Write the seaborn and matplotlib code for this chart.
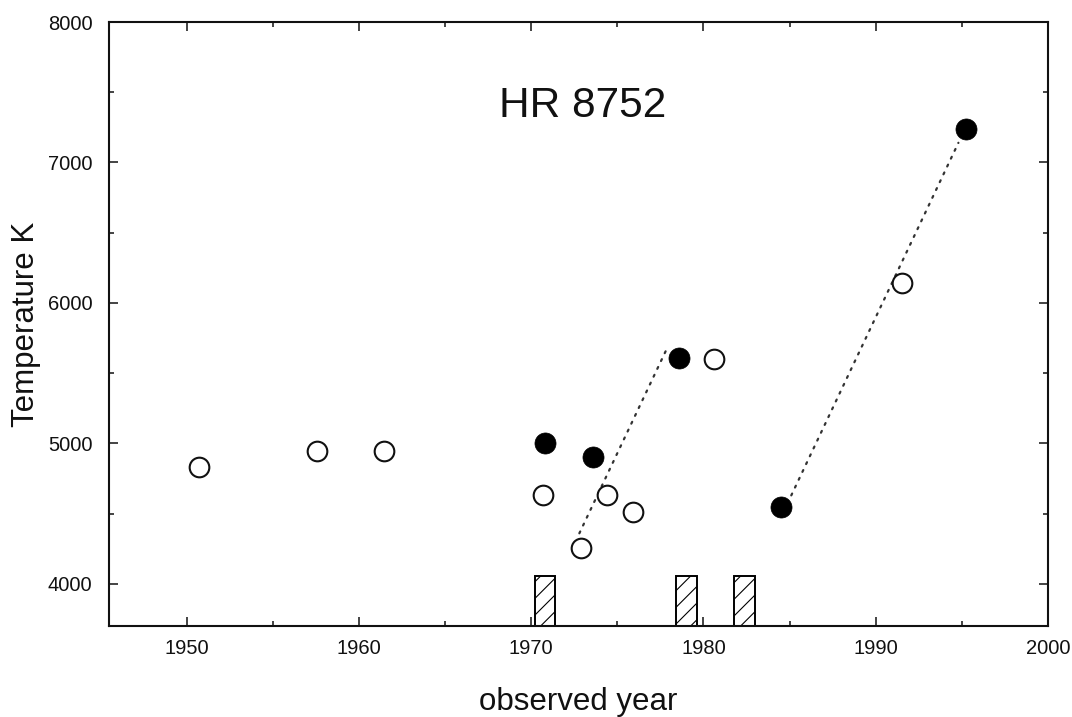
import matplotlib
matplotlib.use("Agg")
import matplotlib.pyplot as plt
from matplotlib.ticker import MultipleLocator
import seaborn as sns
import pandas as pd

# Effective temperature estimates of HR 8752 by observing epoch
open_years = [1950.7, 1957.6, 1961.45, 1970.7, 1974.4, 1975.9, 1972.9, 1980.6, 1991.5]
open_temps = [4830, 4945, 4945, 4635, 4635, 4510, 4255, 5600, 6145]

filled_years = [1970.8, 1973.6, 1978.6, 1984.5, 1995.25]
filled_temps = [5005, 4905, 5605, 4550, 7235]

# Dotted trend segments (start, end)
trend1_years = [1972.8, 1977.9]
trend1_temps = [4360, 5680]
trend2_years = [1985.1, 1994.8]
trend2_temps = [4630, 7140]

# Hatched epochs along the bottom axis
epoch_left = [1970.2, 1978.4, 1981.8]
epoch_width = [1.2, 1.2, 1.2]
epoch_top = 4057

XMIN, XMAX = 1945.5, 2000
YMIN, YMAX = 3700, 8000

sns.set_theme(style="ticks")
plt.rcParams["font.family"] = ["Liberation Sans", "DejaVu Sans"]
plt.rcParams["hatch.linewidth"] = 0.8
plt.rcParams["hatch.color"] = "#333333"

fig = plt.figure(figsize=(10.72, 7.17), dpi=100)
ax = fig.add_axes([109 / 1072, 1 - 626 / 717, (1048 - 109) / 1072, (626 - 22) / 717])

open_df = pd.DataFrame({"year": open_years, "temp": open_temps})
filled_df = pd.DataFrame({"year": filled_years, "temp": filled_temps})

for yrs, tmps in [(trend1_years, trend1_temps), (trend2_years, trend2_temps)]:
    ax.plot(yrs, tmps, color="#333333", linewidth=1.6,
            linestyle=(0, (0.9, 3.0)), dash_capstyle="round", zorder=1)

ax.bar(epoch_left, [epoch_top - YMIN] * len(epoch_left), width=epoch_width,
       bottom=YMIN, align="edge", facecolor="white", edgecolor="black",
       linewidth=1.4, hatch="//", zorder=2)

sns.scatterplot(data=open_df, x="year", y="temp", ax=ax, s=200,
                facecolor="white", edgecolor="#111111", linewidth=1.5,
                zorder=3)
sns.scatterplot(data=filled_df, x="year", y="temp", ax=ax, s=230,
                color="black", edgecolor="black", linewidth=0.5, zorder=3)

ax.text(1973.0, 7326, "HR 8752", ha="center", va="baseline", fontsize=30.5,
        color="#111111")

ax.set_xlim(XMIN, XMAX)
ax.set_ylim(YMIN, YMAX)
ax.xaxis.set_major_locator(MultipleLocator(10))
ax.xaxis.set_minor_locator(MultipleLocator(5))
ax.yaxis.set_major_locator(MultipleLocator(1000))
ax.yaxis.set_minor_locator(MultipleLocator(500))
ax.set_xticks([1950, 1960, 1970, 1980, 1990, 2000])
ax.set_yticks([4000, 5000, 6000, 7000, 8000])

ax.tick_params(which="both", direction="in", top=True, right=True,
               color="#111111", width=1.1)
ax.tick_params(which="major", length=6.5)
ax.tick_params(which="minor", length=3.6)
ax.tick_params(axis="x", which="major", labelsize=14.5, pad=9,
               labelcolor="#111111")
ax.tick_params(axis="y", which="major", labelsize=14.5, pad=12,
               labelcolor="#111111")

for sp in ax.spines.values():
    sp.set_visible(True)
    sp.set_linewidth(1.5)
    sp.set_color("#111111")

ax.set_xlabel("observed year", fontsize=22.5, color="#111111")
ax.set_ylabel("Temperature K", fontsize=22.5, color="#111111")
ax.xaxis.set_label_coords(0.5, -0.139)
ax.xaxis.label.set_va("baseline")
ax.yaxis.set_label_coords(-0.0724, 0.5)

fig.savefig("out.png", dpi=100, facecolor="white")
